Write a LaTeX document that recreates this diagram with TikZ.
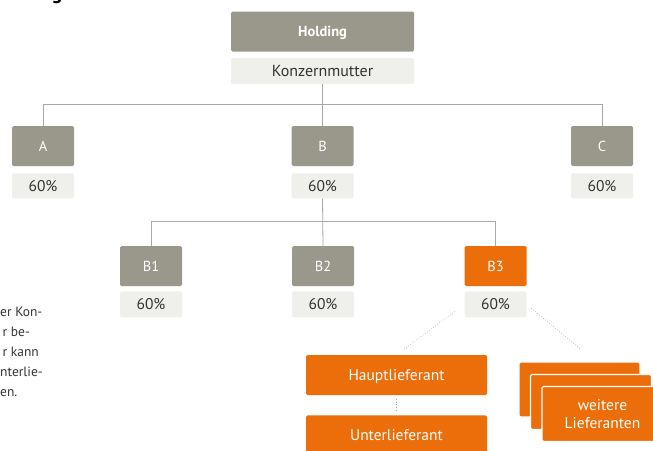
\documentclass[tikz,border=0pt]{standalone}
\usepackage{fontspec}
\setmainfont{PT Sans}
\usetikzlibrary{calc,positioning}
\definecolor{boxgray}{HTML}{9A988B}
\definecolor{pctgray}{HTML}{EFEFEB}
\definecolor{lieforange}{HTML}{EB6E0A}
\definecolor{linegray}{HTML}{A8A8A8}
\definecolor{textdark}{HTML}{333333}
\tikzstyle{company}=[rectangle,fill=boxgray,text=white,rounded corners=1.5pt,minimum width=62pt,minimum height=40pt,inner sep=0pt,text depth=0pt,font=\fontsize{14.5}{16}\selectfont]
\tikzstyle{share}=[rectangle,fill=pctgray,text=textdark,rounded corners=1.5pt,minimum width=62pt,minimum height=25pt,inner sep=0pt,font=\fontsize{15.5}{17}\selectfont]
\tikzstyle{supplier}=[company,fill=lieforange,minimum width=181pt,align=center,font=\fontsize{15.5}{17.5}\selectfont]
\tikzstyle{link}=[draw=linegray,line width=0.8pt]
\tikzstyle{hint}=[draw=linegray,dotted,line width=0.6pt]

\begin{document}
\begin{tikzpicture}[x=1pt,y=-1pt]
    \useasboundingbox (0,0) rectangle (653,450);

    \node[font=\bfseries\fontsize{20}{20}\selectfont,anchor=base](headg) at (57,-1){g};

    \node[company, minimum width=183pt, font=\bfseries\fontsize{14.5}{16}\selectfont](holding) at (322.5,31.5){Holding};
    \node[share, minimum width=183pt, minimum height=26pt, font=\fontsize{16}{18}\selectfont](mutter)[below=6pt of holding]{Konzernmutter};

    \node[company](a) at (43,146){A};
    \node[share](apct)[below=7pt of a]{60\%};
    \node[company](b) at (322.5,146){B};
    \node[share](bpct)[below=7pt of b]{60\%};
    \node[company](c) at (602,146){C};
    \node[share](cpct)[below=7pt of c]{60\%};

    \node[company](b1) at (151,266){B1};
    \node[share, minimum height=26pt](b1pct)[below=5pt of b1]{60\%};
    \node[company](b2) at (323,266){B2};
    \node[share, minimum height=26pt](b2pct)[below=5pt of b2]{60\%};
    \node[company, fill=lieforange](b3) at (495.5,266){B3};
    \node[share, minimum height=26pt](b3pct)[below=5pt of b3]{60\%};

    \node[supplier](haupt) at (396.5,375){Hauptlieferant};
    \node[supplier](unter)[below=20pt of haupt]{Unterlieferant};

    \node[supplier, minimum width=121pt, minimum height=55pt, draw=white, line width=1.2pt](stack1) at (579.5,389.5){};
    \node[supplier, minimum width=121pt, minimum height=55pt, draw=white, line width=1.2pt](stack2) at ($(stack1)+(11.5,12.5)$){};
    \node[supplier, minimum width=121pt, minimum height=55pt, draw=white, line width=1.2pt](stack3) at ($(stack1)+(23,24.5)$){weitere\\Lieferanten};

    \node[anchor=north west, align=left, inner sep=0pt, text=textdark, font=\fontsize{13.5}{20}\selectfont](note) at (0,307){er Kon-\\\hspace*{2.5pt}r be-\\\hspace*{2.5pt}r kann\\nterlie-\\en.};

    \draw[link](mutter.south) -- (b.north);
    \draw[link](a.north) -- ++(0,-21) -| (c.north);
    \draw[link](bpct.south) -- (b2.north);
    \draw[link](b1.north) -- ++(0,-24) -| (b3.north);

    \draw[hint, shorten <=12pt, shorten >=8pt](b3pct.west) -- (haupt.north);
    \draw[hint, shorten <=6pt, shorten >=20pt](b3pct.east) -- ($(stack1.north)+(16,0)$);
    \draw[hint, shorten <=4pt, shorten >=3pt](haupt.south) -- (unter.north);
\end{tikzpicture}
\end{document}
